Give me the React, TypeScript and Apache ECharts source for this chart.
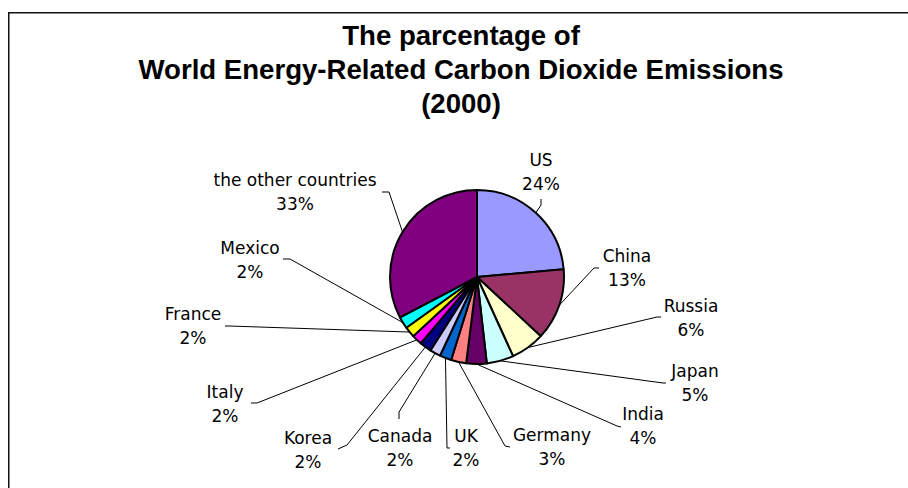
import React, { useEffect, useRef } from "react";
import * as echarts from "echarts";

// ---- data ----
const countries = [
  "US",
  "China",
  "Russia",
  "Japan",
  "India",
  "Germany",
  "UK",
  "Canada",
  "Korea",
  "Italy",
  "France",
  "Mexico",
  "the other countries",
];
const shares = [23.6, 13.3, 6.3, 5.0, 3.8, 2.8, 2.2, 2.0, 2.2, 1.9, 2.0, 2.2, 32.7];
const sliceColors = [
  "#9999FF",
  "#993366",
  "#FFFFCC",
  "#CCFFFF",
  "#660066",
  "#FF8080",
  "#0066CC",
  "#CCCCFF",
  "#000080",
  "#FF00FF",
  "#FFFF00",
  "#00FFFF",
  "#800080",
];
const titleLines = [
  "The parcentage of",
  "World Energy-Related Carbon Dioxide Emissions",
  "(2000)",
];

// ---- layout (label placement, leader line elbows) ----
const PIE_CENTER = [477, 277];
const PIE_RADIUS = 87;
const labelCenters = [
  [541, 172],
  [627, 268],
  [691, 318],
  [695, 383],
  [643, 426],
  [552, 447],
  [466, 448],
  [400, 448],
  [308, 450],
  [225, 404],
  [193, 326],
  [250, 260],
  [295, 192],
];
const leaderElbows = [
  [541, 205],
  [594, 268],
  [657, 317],
  [663, 383],
  [617, 426],
  [505, 446],
  [447, 448],
  [399, 412],
  [347, 445],
  [257, 403],
  [229, 326],
  [290, 259],
  [389, 192],
];
const leaderEnds = [
  [541, 199],
  [599, 268],
  [661, 317],
  [666, 383],
  [621, 427],
  [510, 447],
  [450, 448],
  [399, 419],
  [338, 449],
  [251, 403],
  [225, 326],
  [283, 259],
  [382, 192],
];

function edgePoint(i: number): number[] {
  const total = shares.reduce((a, b) => a + b, 0);
  let before = 0;
  for (let k = 0; k < i; k++) before += shares[k];
  const mid = ((before + shares[i] / 2) / total) * Math.PI * 2;
  return [PIE_CENTER[0] + PIE_RADIUS * Math.sin(mid), PIE_CENTER[1] - PIE_RADIUS * Math.cos(mid)];
}

export default function App() {
  const ref = useRef<HTMLDivElement>(null);
  useEffect(() => {
    if (!ref.current) return;
    const chart = echarts.init(ref.current, undefined, { renderer: "svg" });
    chart.setOption({
      animation: false,
      backgroundColor: "#ffffff",
      title: {
        text: titleLines.join("\n"),
        left: 461,
        top: 18,
        textAlign: "center",
        padding: 0,
        textStyle: {
          fontFamily: "Liberation Sans",
          fontWeight: "bold",
          fontSize: 27.6,
          lineHeight: 34,
          color: "#000",
        },
      },
      graphic: [
        {
          type: "rect",
          silent: true,
          z: -10,
          shape: { x: 8.75, y: 12.75, width: 1000, height: 1000 },
          style: { fill: "none", stroke: "#111", lineWidth: 1.5 },
        },
      ],
      series: [
        {
          type: "pie",
          center: PIE_CENTER,
          radius: PIE_RADIUS,
          startAngle: 90,
          clockwise: true,
          avoidLabelOverlap: false,
          data: countries.map((name, i) => ({
            name,
            value: shares[i],
            itemStyle: { color: sliceColors[i] },
          })),
          itemStyle: { borderColor: "#000", borderWidth: 2 },
          emphasis: { disabled: true },
          label: {
            show: true,
            position: "outside",
            formatter: (p: any) => `${p.name}\n${Math.round(p.percent)}%`,
            fontFamily: "DejaVu Sans",
            fontSize: 17,
            lineHeight: 24,
            color: "#000",
            align: "center",
          },
          labelLine: {
            show: true,
            length: 10,
            length2: 10,
            smooth: false,
            lineStyle: { color: "#000", width: 1 },
          },
          labelLayout: (params: any) => {
            const i = params.dataIndex;
            const start =
              params.labelLinePoints && params.labelLinePoints[0]
                ? params.labelLinePoints[0]
                : edgePoint(i);
            return {
              x: labelCenters[i][0],
              y: labelCenters[i][1],
              align: "center",
              verticalAlign: "middle",
              labelLinePoints: [start, leaderElbows[i], leaderEnds[i]],
            };
          },
        },
      ],
    });
    return () => chart.dispose();
  }, []);
  return (
    <div
      ref={ref}
      style={{ position: "absolute", left: 0, top: 0, width: 908, height: 488, overflow: "hidden" }}
    />
  );
}
